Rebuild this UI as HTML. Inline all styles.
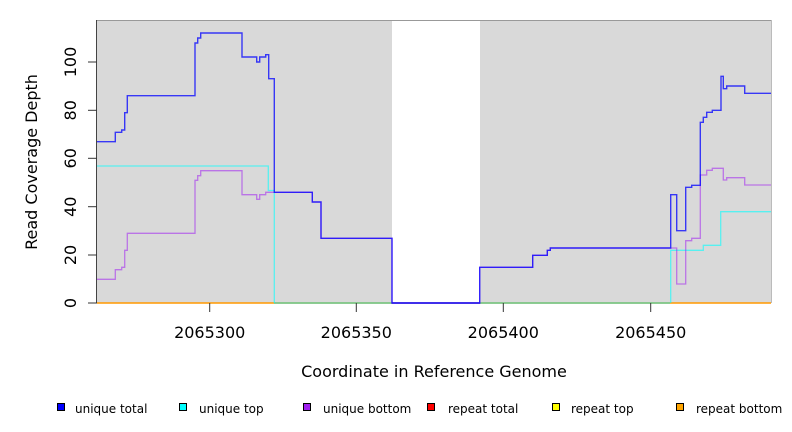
<!DOCTYPE html>
<html><head><meta charset="utf-8"><style>
html,body{margin:0;padding:0;background:#fff;}
svg{display:block;font-family:"DejaVu Sans","Liberation Sans",sans-serif;}
</style></head><body>
<svg width="792" height="432" viewBox="0 0 792 432" xmlns="http://www.w3.org/2000/svg">
<rect x="97" y="20" width="674" height="283" fill="#d9d9d9"/>
<rect x="392" y="20" width="88" height="283" fill="#fff"/>
<line x1="97" y1="20.5" x2="771" y2="20.5" stroke="#999" stroke-width="1"/>
<line x1="771.5" y1="20" x2="771.5" y2="303" stroke="#bbb" stroke-width="1"/>
<line x1="96.5" y1="20" x2="96.5" y2="303" stroke="#444" stroke-width="1"/>
<line x1="97" y1="303" x2="771" y2="303" stroke="#ff9900" stroke-width="1.5"/>
<line x1="274" y1="303" x2="670" y2="303" stroke="#66cc99" stroke-width="1.5"/>
<line x1="392" y1="303" x2="480" y2="303" stroke="#7755ee" stroke-width="1.5"/>
<polyline fill="none" stroke="#00ffff" stroke-opacity="0.6" stroke-width="1.3" points="97,166 268.3,166 268.3,190.5 274.3,190.5 274.3,303"/>
<polyline fill="none" stroke="#00ffff" stroke-opacity="0.6" stroke-width="1.3" points="670.7,303 670.7,250.3 703.3,250.3 703.3,245.3 720.7,245.3 720.7,211.7 771,211.7"/>
<polyline fill="none" stroke="#a020f0" stroke-opacity="0.55" stroke-width="1.3" points="97,279.3 115.3,279.3 115.3,269.7 121.7,269.7 121.7,267.3 124.7,267.3 124.7,250.3 127.3,250.3 127.3,233.3 195,233.3 195,180.3 197.7,180.3 197.7,175.7 200.7,175.7 200.7,170.7 242,170.7 242,194.7 256.7,194.7 256.7,199.3 259.7,199.3 259.7,194.7 265.7,194.7 265.7,192.3 312.3,192.3 312.3,202 321,202 321,238.3 392,238.3 392,303 479.7,303 479.7,267.3 532.7,267.3 532.7,255.3 547.3,255.3 547.3,250.3 550.3,250.3 550.3,248 676.7,248 676.7,284 685.7,284 685.7,240.7 691.7,240.7 691.7,238.3 700.3,238.3 700.3,175 706.7,175 706.7,170.3 712.3,170.3 712.3,168.3 723.3,168.3 723.3,180 726.7,180 726.7,177.7 744.7,177.7 744.7,185 771,185"/>
<polyline fill="none" stroke="#0000ff" stroke-opacity="0.75" stroke-width="1.4" points="97,141.7 115.3,141.7 115.3,132.3 121.7,132.3 121.7,130 124.7,130 124.7,112.7 127.3,112.7 127.3,95.7 195,95.7 195,43 197.7,43 197.7,38 200.7,38 200.7,33 242,33 242,57 256.7,57 256.7,62 259.7,62 259.7,57 265.7,57 265.7,54.7 268.7,54.7 268.7,78.7 274.3,78.7 274.3,192.3 312.3,192.3 312.3,202 321,202 321,238.3 392,238.3 392,303 479.7,303 479.7,267.3 532.7,267.3 532.7,255.3 547.3,255.3 547.3,250.3 550.3,250.3 550.3,248 670.7,248 670.7,194.7 676.7,194.7 676.7,230.7 685.7,230.7 685.7,187.3 691.7,187.3 691.7,185.3 700.3,185.3 700.3,122.3 703.3,122.3 703.3,117.3 706.7,117.3 706.7,112.3 712.3,112.3 712.3,110.3 721,110.3 721,76.3 723.3,76.3 723.3,88.7 726.7,88.7 726.7,86 744.7,86 744.7,93.3 771,93.3"/>
<g stroke="#333" stroke-width="1">
<line x1="88" y1="303" x2="97" y2="303"/><line x1="88" y1="255" x2="97" y2="255"/><line x1="88" y1="206.7" x2="97" y2="206.7"/><line x1="88" y1="158.3" x2="97" y2="158.3"/><line x1="88" y1="110.3" x2="97" y2="110.3"/><line x1="88" y1="62" x2="97" y2="62"/>
<line x1="209.7" y1="303" x2="209.7" y2="312"/><line x1="356.3" y1="303" x2="356.3" y2="312"/><line x1="503.3" y1="303" x2="503.3" y2="312"/><line x1="650.7" y1="303" x2="650.7" y2="312"/>
</g>
<g font-size="16" fill="#000" text-anchor="middle">
<text transform="translate(76,303) rotate(-90)">0</text>
<text transform="translate(76,255) rotate(-90)">20</text>
<text transform="translate(76,206.7) rotate(-90)">40</text>
<text transform="translate(76,158.3) rotate(-90)">60</text>
<text transform="translate(76,110.3) rotate(-90)">80</text>
<text transform="translate(76,62) rotate(-90)">100</text>
<text x="209.7" y="338">2065300</text>
<text x="356.3" y="338">2065350</text>
<text x="503.3" y="338">2065400</text>
<text x="650.7" y="338">2065450</text>
<text x="434" y="377">Coordinate in Reference Genome</text>
<text transform="translate(37,162) rotate(-90)">Read Coverage Depth</text>
</g>
<g font-size="12" fill="#000" stroke-width="1">
<rect x="57.5" y="403.5" width="7" height="7" fill="#0000ff" stroke="#000"/><text x="75" y="413">unique total</text>
<rect x="179.5" y="403.5" width="7" height="7" fill="#00ffff" stroke="#000"/><text x="199" y="413">unique top</text>
<rect x="303.5" y="403.5" width="7" height="7" fill="#a020f0" stroke="#000"/><text x="323" y="413">unique bottom</text>
<rect x="427.5" y="403.5" width="7" height="7" fill="#ff0000" stroke="#000"/><text x="448" y="413">repeat total</text>
<rect x="552.5" y="403.5" width="7" height="7" fill="#ffff00" stroke="#000"/><text x="571" y="413">repeat top</text>
<rect x="676.5" y="403.5" width="7" height="7" fill="#ffa500" stroke="#000"/><text x="696" y="413">repeat bottom</text>
</g>
</svg>
</body></html>
